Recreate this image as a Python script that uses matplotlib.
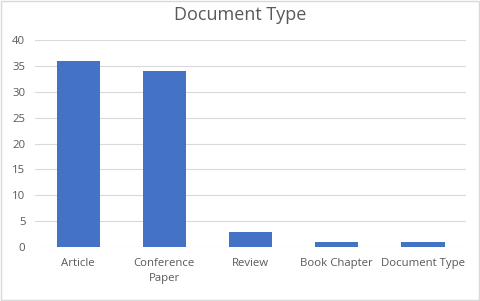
import matplotlib
matplotlib.use("Agg")
import matplotlib.pyplot as plt
from matplotlib.patches import Rectangle

categories = ["Article", "Conference\nPaper", "Review", "Book Chapter", "Document Type"]
counts = [36, 34, 3, 1, 1]
yticks = [0, 5, 10, 15, 20, 25, 30, 35, 40]

plt.rcParams['font.family'] = ['Open Sans', 'DejaVu Sans']
txt = '#595959'

fig = plt.figure(figsize=(4.8, 3.01), dpi=100)
ax = fig.add_axes([0.073, 0.179, 0.898, 0.688])

ax.bar(range(len(categories)), counts, width=0.5, color='#4472C4', zorder=3)
ax.set_xlim(-0.5, len(categories) - 0.5)
ax.set_ylim(0, 40)
ax.set_yticks(yticks)
ax.set_xticks(range(len(categories)))
ax.set_xticklabels(categories, linespacing=1.5)
ax.grid(axis='y', color='#D9D9D9', linewidth=0.8, zorder=0)
for s in ax.spines.values():
    s.set_visible(False)
ax.tick_params(length=0, colors=txt, labelsize=8.2)
ax.tick_params(axis='x', pad=8)
ax.tick_params(axis='y', pad=7)

fig.text(0.5, 0.95, "Document Type", ha='center', va='center', fontsize=13, color=txt)
fig.patches.append(Rectangle((0.002, 0.003), 0.996, 0.994, transform=fig.transFigure,
                             fill=False, edgecolor='#D9D9D9', linewidth=1))

fig.savefig("out.png", dpi=100)
